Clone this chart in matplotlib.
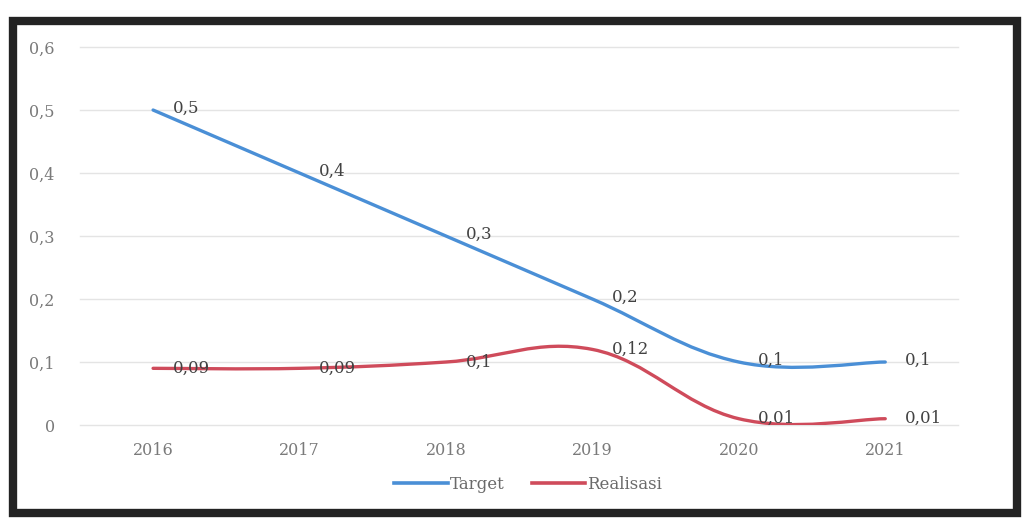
import matplotlib

matplotlib.use("Agg")
import matplotlib.pyplot as plt
import numpy as np
from matplotlib.lines import Line2D
from matplotlib.patches import PathPatch, Rectangle
from matplotlib.path import Path

years = ["2016", "2017", "2018", "2019", "2020", "2021"]
target = [0.5, 0.4, 0.3, 0.2, 0.1, 0.1]
realisasi = [0.09, 0.09, 0.1, 0.12, 0.01, 0.01]
target_labels = ["0,5", "0,4", "0,3", "0,2", "0,1", "0,1"]
realisasi_labels = ["0,09", "0,09", "0,1", "0,12", "0,01", "0,01"]
y_ticks = [0, 0.1, 0.2, 0.3, 0.4, 0.5, 0.6]
y_ticklabels = ["0", "0,1", "0,2", "0,3", "0,4", "0,5", "0,6"]

BLUE = "#4a8fd6"
RED = "#cf4b5b"
TENSION = 0.19

plt.rcParams["font.family"] = ["DejaVu Serif"]


def smooth_path(xs, ys, tension=TENSION):
    """Excel-like smoothed line: cubic Bezier segments through every point."""
    pts = np.column_stack([xs, ys]).astype(float)
    padded = np.vstack([pts[0], pts, pts[-1]])
    verts = [pts[0]]
    codes = [Path.MOVETO]
    for i in range(len(pts) - 1):
        p0, p1, p2, p3 = padded[i], padded[i + 1], padded[i + 2], padded[i + 3]
        c1 = p1 + (p2 - p0) * tension
        c2 = p2 - (p3 - p1) * tension
        verts += [c1, c2, p2]
        codes += [Path.CURVE4] * 3
    return Path(verts, codes)


fig = plt.figure(figsize=(10.24, 5.18), dpi=100)
fig.patch.set_facecolor("white")

# dark scanned frame around the chart
fig.patches.append(
    Rectangle((0.0127, 0.0097), 0.980, 0.950, transform=fig.transFigure,
              fill=False, edgecolor="#232323", linewidth=6, zorder=0)
)

ax = fig.add_axes([0.078, 0.1795, 0.858, 0.7297])
x = np.arange(len(years))

for vals, color in [(target, BLUE), (realisasi, RED)]:
    ax.add_patch(PathPatch(smooth_path(x, vals), facecolor="none",
                           edgecolor=color, linewidth=2.4, capstyle="round", zorder=3))

for xi, v, lab in zip(x, target, target_labels):
    ax.annotate(lab, (xi, v), xytext=(14, 1.5), textcoords="offset points",
                ha="left", va="center", fontsize=12, color="#424242", zorder=4)
for xi, v, lab in zip(x, realisasi, realisasi_labels):
    ax.annotate(lab, (xi, v), xytext=(14, 0), textcoords="offset points",
                ha="left", va="center", fontsize=12, color="#424242", zorder=4)

ax.set_xlim(-0.5, len(years) - 0.5)
ax.set_ylim(0, 0.6)
ax.set_xticks(x)
ax.set_xticklabels(years)
ax.set_yticks(y_ticks)
ax.set_yticklabels(y_ticklabels)
ax.tick_params(length=0, labelsize=11.5, labelcolor="#7a7a7a")
ax.tick_params(axis="x", pad=12)
ax.tick_params(axis="y", pad=18)
for gl in ax.yaxis.get_gridlines():
    gl.set_clip_on(False)
ax.grid(axis="y", color="#e4e4e4", linewidth=1)
ax.set_axisbelow(True)
for spine in ax.spines.values():
    spine.set_visible(False)
ax.set_facecolor("none")

handles = [Line2D([], [], color=BLUE, linewidth=2.6),
           Line2D([], [], color=RED, linewidth=2.6)]
fig.legend(handles, ["Target", "Realisasi"], loc="center", bbox_to_anchor=(0.516, 0.065),
           ncol=2, frameon=False, fontsize=12, labelcolor="#6a6a6a",
           handlelength=3.2, handletextpad=0.15, columnspacing=1.6)

fig.savefig("out.png", dpi=100)
